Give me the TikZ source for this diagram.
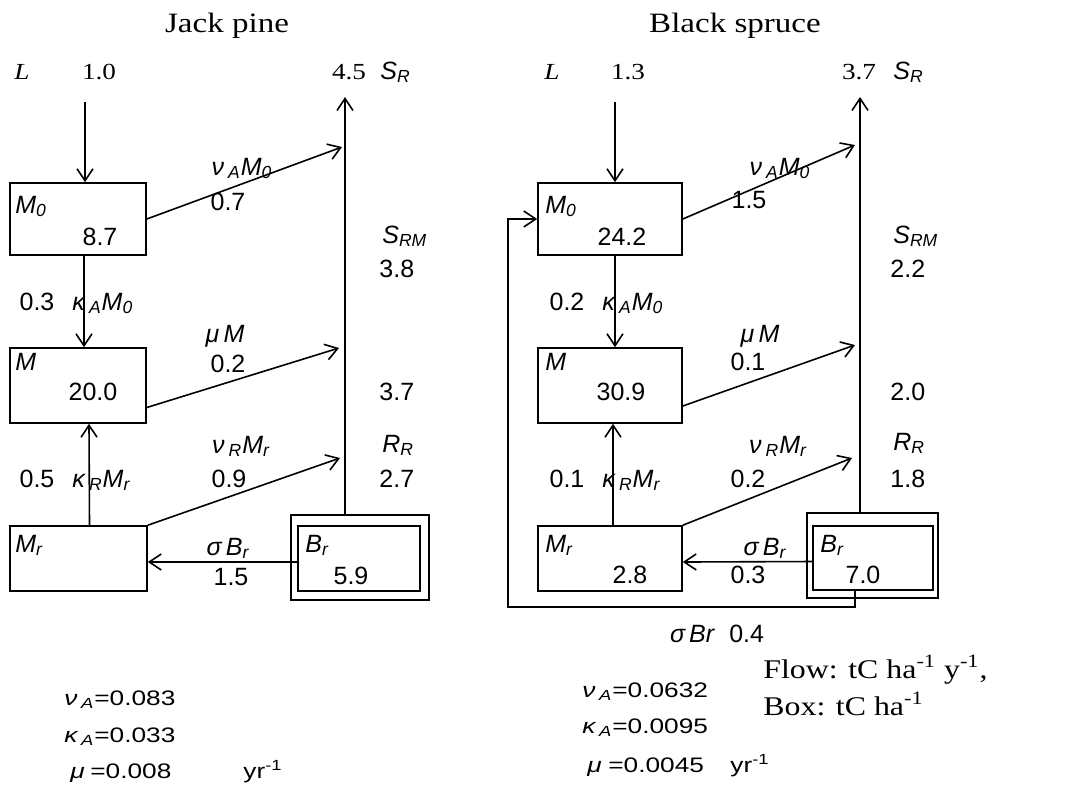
\documentclass[tikz,border=0pt]{standalone}
\usepackage{fontspec}
\setmainfont[FakeStretch=1.18]{Liberation Serif}
\setsansfont{Liberation Sans}
\newfontfamily\widesans[FakeStretch=1.25]{Liberation Sans}
\usetikzlibrary{arrows.meta,calc}
\newcommand{\lo}[1]{\textsubscript{#1}}
\tikzset{
  cb/box/.style={draw=black, line width=0.8pt, inner sep=0pt},
  cb/arrow/.style={-{Straight Barb[length=6pt,width=8pt]}, line width=0.8pt},
  cb/title/.style={font=\fontsize{14}{16}\selectfont, anchor=base, inner sep=0pt},
  cb/top/.style={font=\fontsize{11.5}{13}\selectfont, anchor=base, inner sep=0pt},
  cb/num/.style={font=\sffamily\fontsize{12.5}{14}\selectfont, anchor=base, inner sep=0pt},
  cb/var/.style={font=\sffamily\itshape\fontsize{12.5}{14}\selectfont, anchor=base, inner sep=0pt},
  cb/param/.style={font=\widesans\fontsize{10.5}{12}\selectfont, anchor=base west, inner sep=0pt},
  cb/unit/.style={font=\fontsize{13.5}{16}\selectfont, anchor=base west, inner sep=0pt}
}
\begin{document}
\begin{tikzpicture}[x=0.5pt,y=-0.5pt]
  \useasboundingbox (0,0) rectangle (1091,784);

  \node[cb/title] (titlej) at (227,32) {Jack pine};
  \node[cb/top,font=\fontsize{11.5}{13}\selectfont\itshape] (lj) at (22,79) {L};
  \node[cb/top] (lvalj) at (99,79) {1.0};
  \node[cb/top] (srvalj) at (349,79) {4.5};
  \node[cb/var,anchor=base west] (srj) at (380,79) {S\lo{R}};

  \node[cb/box,minimum width=68pt,minimum height=36pt] (m0j) at (78,219) {};
  \node[cb/box,minimum width=68pt,minimum height=37.5pt] (mj) at (78,385.5) {};
  \node[cb/box,minimum width=68.5pt,minimum height=32.5pt] (mrj) at (78.5,558.5) {};
  \node[cb/box,minimum width=69pt,minimum height=42.5pt] (brjo) at (360,557.5) {};
  \node[cb/box,minimum width=61pt,minimum height=32.5pt] (brji) at (359,558.5) {};

  \node[cb/var,anchor=base west] (m0jl) at (15,213) {M\lo{0}};
  \node[cb/num] (m0jv) at (100,245) {8.7};
  \node[cb/var,anchor=base west] (mjl) at (15,370) {M};
  \node[cb/num] (mjv) at (93,400) {20.0};
  \node[cb/var,anchor=base west] (mrjl) at (15,552) {M\lo{r}};
  \node[cb/var,anchor=base west] (brjl) at (305,552) {B\lo{r}};
  \node[cb/num] (brjv) at (351,584) {5.9};

  \coordinate (ltopj) at (85,102);
  \coordinate (srtopj) at (345,97);
  \coordinate (sr1j) at (342,147);
  \coordinate (sr2j) at (339,348);
  \coordinate (sr3j) at (340,458);

  \draw[cb/arrow] (ltopj) -- (ltopj |- m0j.north);
  \draw[cb/arrow] (srtopj |- brjo.north) -- (srtopj);
  \draw[cb/arrow] (m0j.east) -- (sr1j);
  \draw[cb/arrow] ([yshift=-11pt]mj.east) -- (sr2j);
  \draw[cb/arrow] (mrj.north east) -- (sr3j);
  \draw[cb/arrow] ([xshift=3pt]m0j.south) -- ([xshift=3pt]mj.north);
  \draw[cb/arrow] ([xshift=5.5pt]mrj.north) -- ([xshift=5.5pt]mj.south);
  \draw[cb/arrow] ([yshift=-1.75pt]brji.west) -- ([yshift=-1.75pt]mrj.east);

  \node[cb/var] (nuamj) at (242,175) {ν\,\lo{A}M\lo{0}};
  \node[cb/num] (f1j) at (228,210) {0.7};
  \node[cb/var,anchor=base west] (srmj) at (382,243) {S\lo{RM}};
  \node[cb/num,anchor=base west] (srmvj) at (379,277) {3.8};
  \node[cb/num] (kavj) at (37,310) {0.3};
  \node[cb/var,anchor=base west] (kamj) at (72,310) {κ\,\lo{A}M\lo{0}};
  \node[cb/var] (mumj) at (225,342) {μ\,M};
  \node[cb/num] (f2j) at (228,372) {0.2};
  \node[cb/num,anchor=base west] (rmj) at (379,400) {3.7};
  \node[cb/var] (nurmj) at (241,453) {ν\,\lo{R}M\lo{r}};
  \node[cb/var,anchor=base west] (rrj) at (382,452) {R\lo{R}};
  \node[cb/num] (krvj) at (37,487) {0.5};
  \node[cb/var,anchor=base west] (krmj) at (72,487) {κ\,\lo{R}M\lo{r}};
  \node[cb/num] (f3j) at (229,487) {0.9};
  \node[cb/num,anchor=base west] (rrvj) at (379,487) {2.7};
  \node[cb/var] (sigj) at (228,555) {σ\,B\lo{r}};
  \node[cb/num] (f4j) at (231,585) {1.5};

  \node[cb/title] (titles) at (735,32) {Black spruce};
  \node[cb/top,font=\fontsize{11.5}{13}\selectfont\itshape] (ls) at (552,79) {L};
  \node[cb/top] (lvals) at (628,79) {1.3};
  \node[cb/top] (srvals) at (859,79) {3.7};
  \node[cb/var,anchor=base west] (srs) at (893,79) {S\lo{R}};

  \node[cb/box,minimum width=72pt,minimum height=36pt] (m0s) at (610,219) {};
  \node[cb/box,minimum width=72pt,minimum height=37.5pt] (ms) at (610,385.5) {};
  \node[cb/box,minimum width=72pt,minimum height=32.5pt] (mrs) at (610,558.5) {};
  \node[cb/box,minimum width=65.5pt,minimum height=42.5pt] (brso) at (872.5,555.5) {};
  \node[cb/box,minimum width=60pt,minimum height=32pt] (brsi) at (873,558) {};

  \node[cb/var,anchor=base west] (m0sl) at (545,213) {M\lo{0}};
  \node[cb/num] (m0sv) at (622,245) {24.2};
  \node[cb/var,anchor=base west] (msl) at (545,370) {M};
  \node[cb/num] (msv) at (621,400) {30.9};
  \node[cb/var,anchor=base west] (mrsl) at (545,552) {M\lo{r}};
  \node[cb/num] (mrsv) at (630,583) {2.8};
  \node[cb/var,anchor=base west] (brsl) at (820,552) {B\lo{r}};
  \node[cb/num] (brsv) at (863,583) {7.0};

  \coordinate (ltops) at (615,102);
  \coordinate (srtops) at (860,97);
  \coordinate (sr1s) at (855,145);
  \coordinate (sr2s) at (855,345);
  \coordinate (sr3s) at (852,458);
  \coordinate (loops) at (508,607);

  \draw[cb/arrow] (ltops) -- (ltops |- m0s.north);
  \draw[cb/arrow] (srtops |- brso.north) -- (srtops);
  \draw[cb/arrow] (m0s.east) -- (sr1s);
  \draw[cb/arrow] ([yshift=-10.25pt]ms.east) -- (sr2s);
  \draw[cb/arrow] (mrs.north east) -- (sr3s);
  \draw[cb/arrow] ([xshift=2.5pt]m0s.south) -- ([xshift=2.5pt]ms.north);
  \draw[cb/arrow] ([xshift=1.5pt]mrs.north) -- ([xshift=1.5pt]ms.south);
  \draw[cb/arrow] ([yshift=-1.75pt]brsi.west) -- ([yshift=-1.75pt]mrs.east);
  \draw[cb/arrow] ([xshift=-9pt]brsi.south) |- (loops) |- (m0s.west);

  \node[cb/var] (nuams) at (780,175) {ν\,\lo{A}M\lo{0}};
  \node[cb/num] (f1s) at (749,208) {1.5};
  \node[cb/var,anchor=base west] (srms) at (893,243) {S\lo{RM}};
  \node[cb/num,anchor=base west] (srmvs) at (890,277) {2.2};
  \node[cb/num] (kavs) at (567,310) {0.2};
  \node[cb/var,anchor=base west] (kams) at (602,310) {κ\,\lo{A}M\lo{0}};
  \node[cb/var] (mums) at (760,342) {μ\,M};
  \node[cb/num] (f2s) at (748,370) {0.1};
  \node[cb/num,anchor=base west] (rms) at (890,400) {2.0};
  \node[cb/var] (nurms) at (778,453) {ν\,\lo{R}M\lo{r}};
  \node[cb/var,anchor=base west] (rrs) at (893,450) {R\lo{R}};
  \node[cb/num] (krvs) at (567,487) {0.1};
  \node[cb/var,anchor=base west] (krms) at (602,487) {κ\,\lo{R}M\lo{r}};
  \node[cb/num] (f3s) at (748,487) {0.2};
  \node[cb/num,anchor=base west] (rrvs) at (890,487) {1.8};
  \node[cb/var] (sigs) at (765,555) {σ\,B\lo{r}};
  \node[cb/num] (f4s) at (748,583) {0.3};
  \node[cb/num] (fbs) at (717,642) {{\itshape σ\,Br}\hspace{7.5pt}0.4};

  \node[cb/param] (nuaj) at (64,705) {\makebox[15pt][l]{\itshape ν\,\lo{A}}=0.083};
  \node[cb/param] (kaj) at (64,742) {\makebox[15pt][l]{\itshape κ\,\lo{A}}=0.033};
  \node[cb/param] (muj) at (70,778) {\makebox[10pt][l]{\itshape μ}=0.008};
  \node[cb/param] (yrj) at (243,778) {yr\textsuperscript{-1}};
  \node[cb/param] (nuas) at (582,697) {\makebox[15pt][l]{\itshape ν\,\lo{A}}=0.0632};
  \node[cb/param] (kas) at (582,733) {\makebox[15pt][l]{\itshape κ\,\lo{A}}=0.0095};
  \node[cb/param] (mus) at (587,772) {\makebox[10.5pt][l]{\itshape μ}=0.0045};
  \node[cb/param] (yrs) at (730,772) {yr\textsuperscript{-1}};

  \node[cb/unit] (flowu) at (763,678) {Flow: tC ha\textsuperscript{-1} y\textsuperscript{-1},};
  \node[cb/unit] (boxu) at (763,715) {Box: tC ha\textsuperscript{-1}};
\end{tikzpicture}
\end{document}
